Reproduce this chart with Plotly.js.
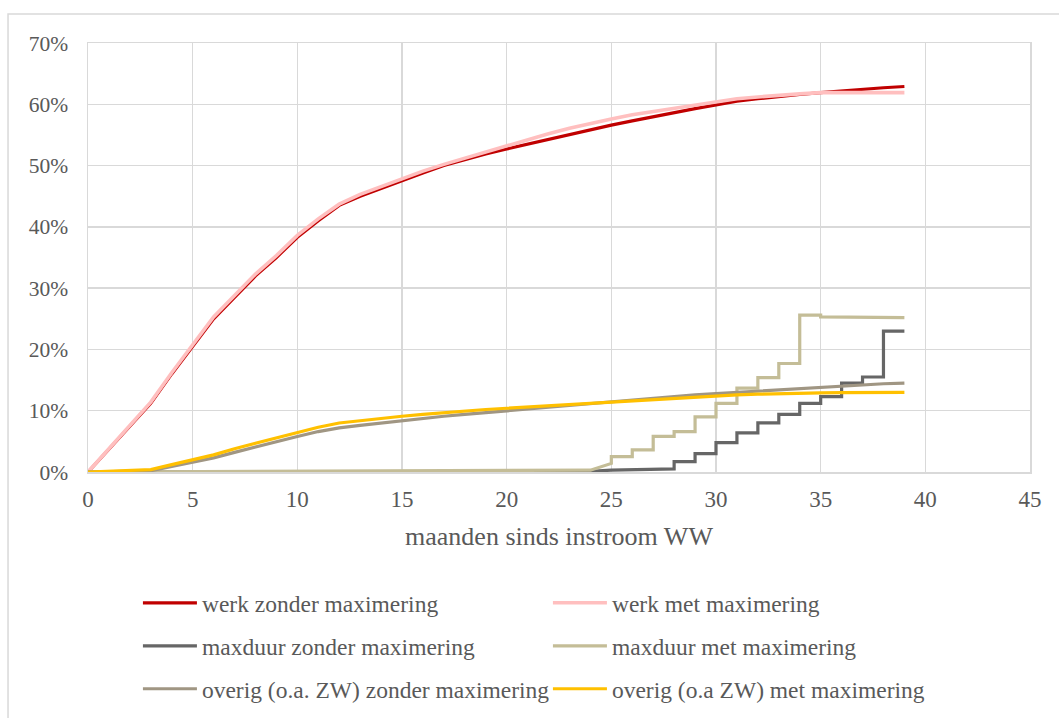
<!DOCTYPE html>
<html>
<head>
<meta charset="utf-8">
<script src="https://cdn.plot.ly/plotly-3.0.1.min.js"></script>
<style>html,body{margin:0;padding:0;background:#fff;}#chart{width:1059px;height:718px;}</style>
</head>
<body>
<div id="chart"></div>
<script>
// months since inflow
var months = [0, 3, 4, 5, 6, 7, 8, 9, 10, 11, 12, 13, 14, 15, 16, 17, 18, 19, 20, 21, 22, 23, 24, 25, 26, 27, 28, 29, 30, 31, 32, 33, 34, 35, 36, 37, 38, 39];
var werkZonder = [0, 11.2, 16.0, 20.5, 25.0, 28.5, 32.0, 35.0, 38.3, 41.0, 43.5, 45.0, 46.3, 47.6, 48.8, 50.0, 51.0, 51.9, 52.7, 53.5, 54.3, 55.1, 55.9, 56.6, 57.3, 58.0, 58.6, 59.3, 59.9, 60.5, 60.9, 61.3, 61.6, 61.9, 62.2, 62.5, 62.7, 62.9];
var werkMet = [0, 11.4, 16.2, 20.7, 25.3, 28.8, 32.3, 35.3, 38.6, 41.3, 43.7, 45.3, 46.6, 47.9, 49.1, 50.2, 51.2, 52.3, 53.3, 54.3, 55.2, 56.1, 56.9, 57.6, 58.3, 58.8, 59.4, 59.9, 60.4, 60.9, 61.2, 61.5, 61.7, 61.9, 61.9, 61.9, 61.9, 61.9];
var overigZonder = [0, 0.2, 0.9, 1.6, 2.3, 3.2, 4.1, 5.0, 5.8, 6.6, 7.2, 7.6, 8.0, 8.4, 8.8, 9.1, 9.4, 9.7, 10.0, 10.3, 10.6, 10.9, 11.2, 11.5, 11.8, 12.1, 12.4, 12.6, 12.8, 13.0, 13.3, 13.5, 13.7, 13.9, 14.0, 14.2, 14.4, 14.5];
var overigMet = [0, 0.4, 1.2, 2.0, 2.8, 3.8, 4.7, 5.6, 6.5, 7.3, 8.0, 8.4, 8.8, 9.1, 9.4, 9.7, 10.0, 10.2, 10.4, 10.6, 10.8, 11.0, 11.2, 11.5, 11.7, 11.9, 12.1, 12.3, 12.5, 12.6, 12.7, 12.8, 12.85, 12.9, 12.95, 13.0, 13.0, 13.0];

// stepped series (repeated months mark the jumps)
var maxduurZonderX = [0, 24, 25, 28, 28, 29, 29, 30, 30, 31, 31, 32, 32, 33, 33, 34, 34, 35, 35, 36, 36, 37, 37, 38, 38, 39];
var maxduurZonderY = [0, 0.1, 0.3, 0.5, 1.7, 1.7, 3.0, 3.0, 4.8, 4.8, 6.4, 6.4, 8.0, 8.0, 9.4, 9.4, 11.2, 11.2, 12.3, 12.3, 14.5, 14.5, 15.5, 15.5, 23.0, 23.0];
var maxduurMetX = [0, 12, 24, 25, 25, 26, 26, 27, 27, 28, 28, 29, 29, 30, 30, 31, 31, 32, 32, 33, 33, 34, 34, 35, 35, 39];
var maxduurMetY = [0, 0.1, 0.3, 1.4, 2.5, 2.5, 3.6, 3.6, 5.8, 5.8, 6.6, 6.6, 9.0, 9.0, 11.2, 11.2, 13.7, 13.7, 15.4, 15.4, 17.7, 17.7, 25.6, 25.6, 25.3, 25.2];

var names = ["werk zonder maximering", "werk met maximering", "maxduur zonder maximering", "maxduur met maximering", "overig (o.a. ZW) zonder maximering", "overig (o.a ZW) met maximering"];
var colors = ["#C00000", "#FFBFBF", "#666666", "#C4BD97", "#A09683", "#FFC000"];

var font = "Liberation Serif";
var txt = "#595959";

function tr(x, y, i, leg, w) {
  return {x: x, y: y, name: names[i], type: "scatter", mode: "lines",
    line: {color: colors[i], width: w || 3.2}, legend: leg, hoverinfo: "skip"};
}

var data = [
  tr(months, werkZonder, 0, "legend"),
  tr(months, werkMet, 1, "legend", 3.6),
  tr(maxduurZonderX, maxduurZonderY, 2, "legend2"),
  tr(maxduurMetX, maxduurMetY, 3, "legend2"),
  tr(months, overigZonder, 4, "legend3"),
  tr(months, overigMet, 5, "legend3")
];

function leg(y) {
  return {orientation: "h", x: 0.053, xanchor: "left", y: y, yanchor: "middle",
    entrywidth: 341, entrywidthmode: "pixels", font: {family: font, size: 23.5, color: txt},
    bgcolor: "rgba(0,0,0,0)", itemwidth: 54, tracegroupgap: 0};
}

var layout = {
  width: 1059, height: 718,
  margin: {l: 88, r: 29, t: 43, b: 246, autoexpand: false},
  paper_bgcolor: "#fff", plot_bgcolor: "#fff",
  showlegend: true,
  font: {family: font, size: 23, color: txt},
  xaxis: {range: [0, 45], dtick: 5, tick0: 0, showgrid: true, gridcolor: "#D9D9D9", gridwidth: 1.5,
    zeroline: false, showline: true, mirror: true, linecolor: "#D9D9D9", linewidth: 1.5,
    ticks: "", ticklabelstandoff: 6, tickfont: {family: font, size: 23, color: txt},
    title: {text: "maanden sinds instroom WW", font: {family: font, size: 26, color: txt}, standoff: 15}},
  yaxis: {range: [0, 70], dtick: 10, tick0: 0, ticksuffix: "%", showgrid: true, gridcolor: "#D9D9D9", gridwidth: 1.5,
    zeroline: false, showline: true, mirror: true, linecolor: "#D9D9D9", linewidth: 1.5,
    ticks: "", ticklabelstandoff: 14, tickfont: {family: font, size: 21.5, color: txt}},
  legend: leg(-0.3054),
  legend2: leg(-0.4056),
  legend3: leg(-0.5058),
  shapes: [{type: "rect", xref: "paper", yref: "paper", x0: -0.0849, x1: 1.05, y0: -0.62, y1: 1.0676,
    line: {color: "#D9D9D9", width: 1.5}, fillcolor: "rgba(0,0,0,0)", layer: "below"}]
};

Plotly.newPlot("chart", data, layout, {displayModeBar: false, staticPlot: true});
</script>
</body>
</html>
